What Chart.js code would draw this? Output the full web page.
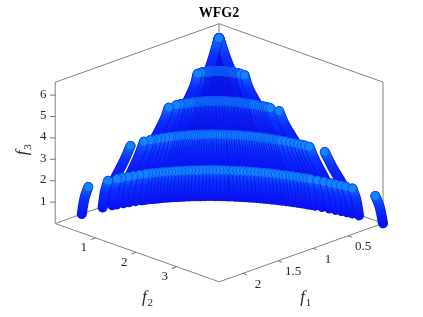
<!DOCTYPE html>
<html>
<head>
<meta charset="utf-8">
<title>WFG2</title>
<script src="https://cdn.jsdelivr.net/npm/chart.js@4"></script>
<style>
    html, body { margin: 0; background: #fff; }
    canvas { display: block; }
</style>
</head>
<body>
<canvas id="chart" width="423" height="317"></canvas>
<script>
const chartTitle = "WFG2"

// Front shape in the f1/f2 plane, one entry per strand
const arcF1 = [0, 0.013, 0.024, 0.036, 0.05, 0.067, 0.086, 0.107, 0.13, 0.143, 0.156, 0.17, 0.184, 0.199, 0.214, 0.23, 0.246, 0.263, 0.28, 0.298, 0.316, 0.335, 0.354, 0.374, 0.395, 0.416, 0.437, 0.459, 0.481, 0.503, 0.526, 0.55, 0.574, 0.598, 0.623, 0.648, 0.674, 0.7, 0.727, 0.753, 0.78, 0.808, 0.836, 0.864, 0.893, 0.922, 0.951, 0.98, 1.01, 1.04, 1.07, 1.1, 1.13, 1.16, 1.19, 1.225, 1.26, 1.32, 1.39, 1.45, 1.52, 1.57, 1.68, 1.96]
const arcF2 = [4.05, 3.48, 3.33, 3.22, 3.11, 3, 2.87, 2.73, 2.6, 2.53, 2.47, 2.4, 2.34, 2.27, 2.21, 2.15, 2.09, 2.02, 1.96, 1.9, 1.84, 1.78, 1.73, 1.67, 1.61, 1.55, 1.5, 1.44, 1.39, 1.34, 1.29, 1.24, 1.19, 1.14, 1.09, 1.04, 0.99, 0.945, 0.9, 0.86, 0.82, 0.775, 0.73, 0.69, 0.65, 0.615, 0.58, 0.545, 0.51, 0.475, 0.44, 0.41, 0.38, 0.35, 0.32, 0.295, 0.27, 0.22, 0.18, 0.14, 0.1, 0.075, 0.03, 0]

// One entry per disconnected tier, lowest first
const tierBottomScale = [1, 0.76, 0.47, 0.24, 0.1]
const tierMidScale = [0.98, 0.69, 0.4, 0.18, 0.05]
const tierTopScale = [0.953, 0.645, 0.367, 0.156, 0.002]
const tierBottomF3 = [0, 1.1, 2.3, 3.4, 4.2]
const tierMidF3 = [0.7, 1.8, 3, 4.1, 5]
const tierTopF3 = [1.15, 2.37, 3.52, 4.62, 5.93]

const f1Ticks = [0.5, 1, 1.5, 2]
const f2Ticks = [1, 2, 3]
const f3Ticks = [1, 2, 3, 4, 5, 6]

// Axis limits
const f1Max = 2.34
const f2Max = 4.05
const f3Max = 6.6

// Fixed 3D view
function project(f1, f2, f3) {
    return { x: 40.5 * f2 - 70 * f1, y: 14.4 * f2 + 25 * f1 - 21.4 * f3 }
}

const datasets = []
let drawIndex = 0

function addLine(points, color) {
    datasets.push({
        data: points,
        showLine: true,
        borderColor: color,
        borderWidth: 1,
        pointRadius: 0,
        order: 1000000 - drawIndex++
    })
}

// Strand body is paler near its tip, where the markers thin out
function strandColor(context) {
    const chart = context.chart
    if (!chart.chartArea) return "#0a20ff"
    const points = context.dataset.data
    const ys = chart.scales.y
    const gradient = chart.ctx.createLinearGradient(0, ys.getPixelForValue(points[2].y), 0, ys.getPixelForValue(points[0].y))
    gradient.addColorStop(0, "#0f6cff")
    gradient.addColorStop(0.4, "#0a30ff")
    gradient.addColorStop(1, "#0814f8")
    return gradient
}

// Box behind the data
addLine([project(f1Max, 0, 0), project(0, 0, 0), project(0, f2Max, 0)], "#808080")
addLine([project(0, 0, 0), project(0, 0, f3Max)], "#808080")
addLine([project(f1Max, 0, f3Max), project(0, 0, f3Max), project(0, f2Max, f3Max)], "#808080")
addLine([project(f1Max, 0, 0), project(f1Max, 0, f3Max)], "#808080")
addLine([project(0, f2Max, 0), project(0, f2Max, f3Max)], "#808080")
addLine([project(f1Max, 0, 0), project(f1Max, f2Max, 0), project(0, f2Max, 0)], "#808080")

// Tick marks
for (const t of f1Ticks) addLine([project(t, f2Max, 0), project(t, f2Max + 0.1, 0)], "#707070")
for (const t of f2Ticks) addLine([project(f1Max, t, 0), project(f1Max + 0.07, t, 0)], "#707070")
for (const t of f3Ticks) addLine([project(f1Max, 0, t), project(f1Max + 0.036, -0.062, t)], "#707070")

// Strands, far tiers first and the middle of each tier before its ends
const middle = (arcF1.length - 1) / 2
const strandOrder = arcF1.map((_, i) => i).sort((a, b) => Math.abs(a - middle) - Math.abs(b - middle))

for (let tier = tierTopF3.length - 1; tier >= 0; tier--) {
    const tops = []
    for (const i of strandOrder) {
        const top = project(arcF1[i] * tierTopScale[tier], arcF2[i] * tierTopScale[tier], tierTopF3[tier])
        const points = [
            project(arcF1[i] * tierBottomScale[tier], arcF2[i] * tierBottomScale[tier], tierBottomF3[tier]),
            project(arcF1[i] * tierMidScale[tier], arcF2[i] * tierMidScale[tier], tierMidF3[tier]),
            top
        ]
        tops.push(top)
        datasets.push({
            data: points,
            showLine: true,
            tension: 0.4,
            borderColor: "#0a10e0",
            borderWidth: 10,
            borderCapStyle: "round",
            pointRadius: 0,
            order: 1000000 - drawIndex++
        })
        datasets.push({
            data: points,
            showLine: true,
            tension: 0.4,
            borderColor: strandColor,
            borderWidth: 8.6,
            borderCapStyle: "round",
            pointRadius: 0,
            order: 1000000 - drawIndex++
        })
    }
    // Tip markers go over the whole tier
    datasets.push({
        data: tops,
        showLine: false,
        pointRadius: 4.5,
        pointBackgroundColor: "#1284ff",
        pointBorderColor: "#0a50f5",
        pointBorderWidth: 1,
        order: 1000000 - drawIndex++
    })
}

function subscriptLabel(ctx, sub) {
    ctx.textAlign = "center"
    ctx.textBaseline = "middle"
    ctx.font = "italic 17px 'Liberation Serif'"
    ctx.fillText("f", 0, 0)
    ctx.font = "11px 'Liberation Serif'"
    ctx.fillText(sub, 6, 6)
}

// Titles and tick labels sit on the projected axes
const axisText = {
    id: "axisText",
    afterDraw(chart) {
        const ctx = chart.ctx
        const xs = chart.scales.x
        const ys = chart.scales.y
        const at = p => [xs.getPixelForValue(p.x), ys.getPixelForValue(p.y)]

        ctx.save()
        ctx.fillStyle = "#262626"
        ctx.textAlign = "center"
        ctx.textBaseline = "middle"
        ctx.font = "13px 'Liberation Serif'"
        for (const t of f1Ticks) {
            const [x, y] = at(project(t, f2Max, 0))
            ctx.fillText(String(t), x + 15, y + 11)
        }
        for (const t of f2Ticks) {
            const [x, y] = at(project(f1Max, t, 0))
            ctx.fillText(String(t), x - 12, y + 10)
        }
        for (const t of f3Ticks) {
            const [x, y] = at(project(f1Max, 0, t))
            ctx.fillText(String(t), x - 12, y - 1)
        }

        ctx.fillStyle = "#000"
        ctx.font = "bold 14px 'Liberation Serif'"
        const [cx, cy] = at(project(0, 0, f3Max))
        ctx.fillText(chartTitle, cx, cy - 10)

        ctx.fillStyle = "#262626"
        const [fx, fy] = at(project(f1Max, 2.2, 0))
        ctx.save()
        ctx.translate(fx, fy + 42)
        subscriptLabel(ctx, "2")
        ctx.restore()

        const [gx, gy] = at(project(1.15, f2Max, 0))
        ctx.save()
        ctx.translate(gx, gy + 45)
        subscriptLabel(ctx, "1")
        ctx.restore()

        const [hx, hy] = at(project(f1Max, 0, 3.3))
        ctx.save()
        ctx.translate(hx - 33, hy)
        ctx.rotate(-Math.PI / 2)
        subscriptLabel(ctx, "3")
        ctx.restore()
        ctx.restore()
    }
}

new Chart(document.getElementById("chart"), {
    type: "scatter",
    data: { datasets },
    plugins: [axisText],
    options: {
        responsive: false,
        animation: false,
        events: [],
        layout: { padding: 0, autoPadding: false },
        plugins: {
            legend: { display: false },
            tooltip: { enabled: false }
        },
        scales: {
            x: { type: "linear", display: false, min: -219, max: 204 },
            y: { type: "linear", display: false, reverse: true, min: -165, max: 152 }
        }
    }
})
</script>
</body>
</html>
